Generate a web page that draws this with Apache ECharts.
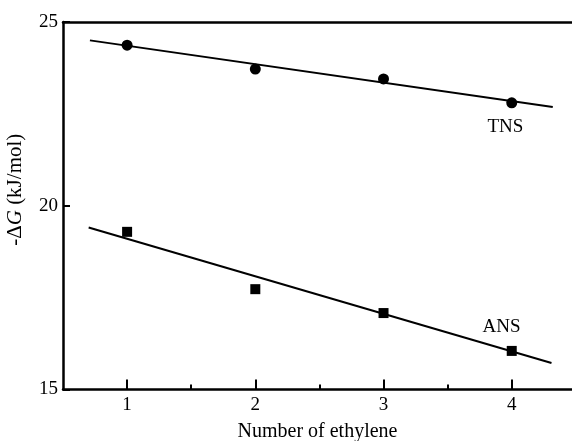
<!DOCTYPE html>
<html><head><meta charset="utf-8">
<script src="https://cdn.jsdelivr.net/npm/echarts@6/dist/echarts.min.js"></script>
<style>html,body{margin:0;padding:0;background:#fff}#c{width:572px;height:441px}</style>
</head><body><div id="c"></div>
<script>
var xTickValues = [1, 2, 3, 4];
var xMinorTickValues = [1.5, 2.5, 3.5];
var yTickValues = [15, 20, 25];
var tnsX = [1, 2, 3, 4];
var tnsY = [24.37, 23.72, 23.45, 22.80];
var ansX = [1, 2, 3, 4];
var ansY = [19.29, 17.73, 17.08, 16.05];
var tnsFitX = [0.71, 4.32];
var tnsFitY = [24.50, 22.69];
var ansFitX = [0.70, 4.31];
var ansFitY = [19.41, 15.72];
var tnsLabel = {name: 'TNS', x: 3.95, y: 22.14};
var ansLabel = {name: 'ANS', x: 3.92, y: 16.70};

function zip(a, b) { return a.map(function (v, i) { return [v, b[i]]; }); }

var font = 'Liberation Serif';
var chart = echarts.init(document.getElementById('c'));
chart.setOption({
  backgroundColor: '#fff',
  animation: false,
  grid: {left: 63, top: 22, width: 509, height: 367.5, containLabel: false, outerBoundsMode: 'none'},
  xAxis: [{
    type: 'value', min: 0.5, max: 4.47, position: 'bottom',
    name: 'Number of ethylene', nameLocation: 'middle', nameGap: 32,
    nameTextStyle: {fontFamily: font, fontSize: 20, color: '#000'},
    axisLine: {lineStyle: {color: '#000', width: 2.5}},
    axisTick: {inside: true, length: 10, customValues: xTickValues, lineStyle: {color: '#000', width: 2}},
    axisLabel: {customValues: xTickValues, fontFamily: font, fontSize: 19, color: '#000', margin: 6},
    splitLine: {show: false}
  }, {
    type: 'value', min: 0.5, max: 4.47, position: 'bottom',
    axisLine: {show: false},
    axisTick: {inside: true, length: 5, customValues: xMinorTickValues, lineStyle: {color: '#000', width: 2}},
    axisLabel: {show: false},
    splitLine: {show: false}
  }, {
    type: 'value', min: 0.5, max: 4.47, position: 'top',
    axisLine: {lineStyle: {color: '#000', width: 2.5}},
    axisTick: {show: false}, axisLabel: {show: false}, splitLine: {show: false}
  }],
  yAxis: [{
    type: 'value', min: 15, max: 25,
    name: '{n|-Δ}{i|G}{n| (kJ/mol)}', nameLocation: 'middle', nameGap: 37, nameRotate: 90,
    nameTextStyle: {
      padding: [0, 0, 0, 32],
      rich: {
        n: {fontFamily: font, fontSize: 21, color: '#000'},
        i: {fontFamily: font, fontSize: 21, fontStyle: 'italic', color: '#000'}
      }
    },
    axisLine: {lineStyle: {color: '#000', width: 2.5}},
    axisTick: {inside: true, length: 7, customValues: yTickValues, lineStyle: {color: '#000', width: 2}},
    axisLabel: {customValues: yTickValues, fontFamily: font, fontSize: 19, color: '#000', margin: 5},
    splitLine: {show: false}
  }],
  series: [
    {type: 'line', data: zip(tnsFitX, tnsFitY), symbol: 'none', lineStyle: {color: '#000', width: 2}, silent: true,
      markPoint: {symbol: 'circle', symbolSize: 0, data: [{coord: [tnsLabel.x, tnsLabel.y], value: tnsLabel.name}],
        label: {show: true, formatter: '{c}', fontFamily: font, fontSize: 19, color: '#000'}}},
    {type: 'line', data: zip(ansFitX, ansFitY), symbol: 'none', lineStyle: {color: '#000', width: 2}, silent: true,
      markPoint: {symbol: 'circle', symbolSize: 0, data: [{coord: [ansLabel.x, ansLabel.y], value: ansLabel.name}],
        label: {show: true, formatter: '{c}', fontFamily: font, fontSize: 19, color: '#000'}}},
    {type: 'scatter', data: zip(tnsX, tnsY), symbol: 'circle', symbolSize: 11, itemStyle: {color: '#000', opacity: 1}},
    {type: 'scatter', data: zip(ansX, ansY), symbol: 'rect', symbolSize: 10, itemStyle: {color: '#000', opacity: 1}}
  ]
});
</script></body></html>
